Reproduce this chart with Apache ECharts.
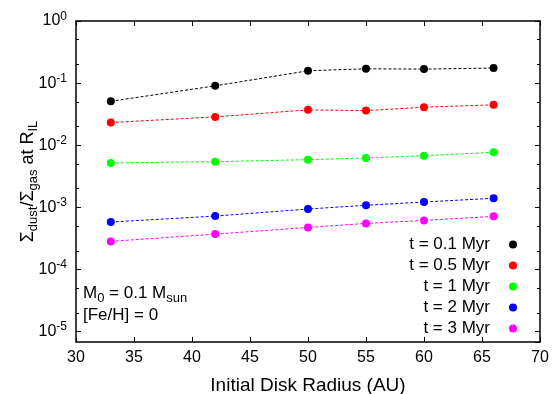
<!DOCTYPE html>
<html><head><meta charset="utf-8">
<script src="https://cdn.jsdelivr.net/npm/echarts@6/dist/echarts.min.js"></script>
<style>html,body{margin:0;padding:0;background:#fff}#c{width:553px;height:394px}</style>
</head><body><div id="c"></div>
<script>
const radii = [33, 42, 50, 55, 60, 66];
const seriesNames = ['t = 0.1 Myr', 't = 0.5 Myr', 't = 1 Myr', 't = 2 Myr', 't = 3 Myr'];
const t01 = [0.051, 0.0904, 0.158, 0.170, 0.168, 0.175];
const t05 = [0.0232, 0.0286, 0.0371, 0.0361, 0.0409, 0.0447];
const t1 = [0.00519, 0.00544, 0.00586, 0.00624, 0.00679, 0.0077];
const t2 = [0.00058, 0.000724, 0.00094, 0.00108, 0.00122, 0.0014];
const t3 = [0.000283, 0.000371, 0.000475, 0.000552, 0.000616, 0.000716];
const colors = ['#000000', '#ff0000', '#00ff00', '#0000ff', '#ff00ff'];
const xTicks = [30, 35, 40, 45, 50, 55, 60, 65, 70];
const yMinorTicks = [2e-5, 5e-5, 2e-4, 5e-4, 2e-3, 5e-3, 2e-2, 5e-2, 2e-1, 5e-1];

const allData = [t01, t05, t1, t2, t3];
const font = 'Liberation Sans, Arial, sans-serif';
const chart = echarts.init(document.getElementById('c'), null, {renderer: 'canvas'});

const yBase = {type: 'log', min: 6.8e-6, max: 1, logBase: 10, splitLine: {show: false}, minorTick: {show: false}};
function yAxisDef(pos, labels, minor) {
  return Object.assign({}, yBase, {
    position: pos,
    axisLine: {show: !minor, lineStyle: {color: '#000', width: 1.5}},
    axisTick: minor ? {show: true, inside: true, length: 3, lineStyle: {color: '#000'}, customValues: yMinorTicks}
                    : {show: true, inside: true, length: 5, lineStyle: {color: '#000'}},
    axisLabel: labels ? {
      show: true, margin: 9, fontFamily: font, color: '#000',
      formatter: function (v) { const e = Math.round(Math.log10(v)); return '{b|10}{s|' + e + '}'; },
      rich: {b: {fontSize: 16, fontFamily: font, color: '#000'}, s: {fontSize: 12, fontFamily: font, color: '#000', padding: [0, 0, 9, 0]}}
    } : {show: false},
    name: labels ? 'Σ{sub|dust}/Σ{sub|gas} at R{sub|IL}' : '',
    nameLocation: 'middle', nameGap: 36, nameMoveOverlap: false,
    nameTextStyle: {fontSize: 18, fontFamily: font, color: '#000',
      rich: {sub: {fontSize: 13, fontFamily: font, color: '#000', padding: [10, 0, 0, 0]}}}
  });
}
function xAxisDef(pos, labels) {
  return {
    type: 'value', min: 30, max: 70, interval: 5, position: pos,
    splitLine: {show: false},
    axisLine: {show: true, onZero: false, lineStyle: {color: '#000', width: 1.5}},
    axisTick: {show: true, inside: true, length: 5, lineStyle: {color: '#000'}},
    axisLabel: labels ? {show: true, margin: 8, fontSize: 16, fontFamily: font, color: '#000'} : {show: false},
    name: labels ? 'Initial Disk Radius (AU)' : '',
    nameLocation: 'middle', nameGap: 34, nameMoveOverlap: false,
    nameTextStyle: {fontSize: 19, fontFamily: font, color: '#000'}
  };
}

const series = allData.map((arr, i) => ({
  name: seriesNames[i], type: 'line', xAxisIndex: 0, yAxisIndex: 0,
  data: radii.map((r, j) => [r, arr[j]]),
  symbol: 'circle', symbolSize: 8,
  itemStyle: {color: colors[i]},
  lineStyle: {color: colors[i], width: 1, type: [3, 2]},
  emphasis: {disabled: true}, animation: false
}));

chart.setOption({
  animation: false,
  grid: {left: 76, right: 13, top: 21, bottom: 52, show: false, containLabel: false, outerBoundsMode: 'none'},
  xAxis: [xAxisDef('bottom', true), xAxisDef('top', false)],
  yAxis: [yAxisDef('left', true, false), yAxisDef('left', false, true), yAxisDef('right', false, false), yAxisDef('right', false, true)],
  legend: {
    orient: 'vertical', right: 36, top: 236, align: 'right', padding: 0,
    icon: 'circle', itemWidth: 36, itemHeight: 8, itemGap: 4,
    textStyle: {fontSize: 17, fontFamily: font, color: '#000'},
    data: seriesNames, selectedMode: false
  },
  graphic: [{
    type: 'text', left: 83, top: 285,
    style: {text: '{n|M}{sub|0}{n| = 0.1 M}{sub|sun}', rich: {
      n: {fontSize: 17, fontFamily: font, fill: '#000'},
      sub: {fontSize: 13, fontFamily: font, fill: '#000', padding: [9, 0, 0, 0]}}}
  }, {
    type: 'text', left: 83, top: 307,
    style: {text: '[Fe/H] = 0', fontSize: 17, fontFamily: font, fill: '#000'}
  }],
  series: series
});
</script></body></html>
